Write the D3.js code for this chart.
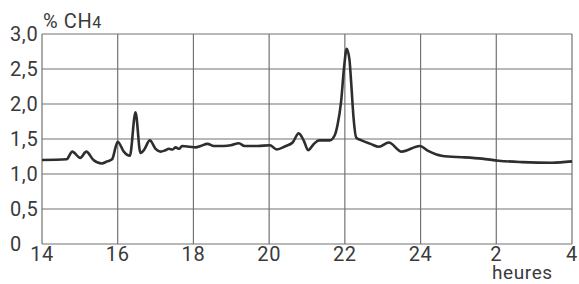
<!DOCTYPE html>
<html>
<head>
<meta charset="UTF-8">
<script src="https://d3js.org/d3.v7.min.js"></script>
<style>
  body { margin: 0; background: #fff; }
  svg { display: block; }
  .lbl { font-family: Roboto, "Liberation Sans", sans-serif; font-size: 20px; letter-spacing: 0.6px; fill: #3a3a3a; }
</style>
</head>
<body>
<div id="chart"></div>
<script>
// time in hours (continuous, 24 = midnight, 28 = 4h next day)
const hours = [14, 14.65, 14.8, 15.01, 15.17, 15.36, 15.58, 15.72, 15.85, 16.0, 16.16, 16.32, 16.47,
  16.6, 16.69, 16.85, 17.0, 17.13, 17.26, 17.35, 17.45, 17.53, 17.62, 17.7, 17.9, 18.06, 18.19, 18.37, 18.54,
  18.8, 18.99, 19.2, 19.35, 19.7, 20.02, 20.2, 20.44, 20.62, 20.78, 20.92, 21.03, 21.18, 21.32, 21.6,
  21.73, 21.81, 21.9, 21.98, 22.05, 22.12, 22.17, 22.23, 22.3, 22.44, 22.68, 22.9, 23.16, 23.5, 23.98,
  24.2, 24.42, 24.73, 25.09, 25.62, 26.06, 26.68, 27.47, 28];
const ch4 = [1.2, 1.21, 1.32, 1.23, 1.32, 1.2, 1.15, 1.18, 1.21, 1.46, 1.32, 1.26, 1.88,
  1.3, 1.34, 1.48, 1.36, 1.32, 1.34, 1.36, 1.35, 1.38, 1.36, 1.4, 1.39, 1.38, 1.4, 1.43, 1.4,
  1.4, 1.41, 1.44, 1.4, 1.4, 1.41, 1.35, 1.4, 1.45, 1.58, 1.47, 1.34, 1.43, 1.48, 1.48,
  1.55, 1.71, 2.03, 2.53, 2.79, 2.64, 2.28, 1.8, 1.52, 1.48, 1.43, 1.39, 1.45, 1.32, 1.4,
  1.33, 1.28, 1.25, 1.24, 1.22, 1.19, 1.17, 1.16, 1.18];
const xTicks = [14, 16, 18, 20, 22, 24, 26, 28];
const xTickLabels = ["14", "16", "18", "20", "22", "24", "2", "4"];
const yTicks = [0, 0.5, 1, 1.5, 2, 2.5, 3];
const yTickLabels = ["0", "0,5", "1,0", "1,5", "2,0", "2,5", "3,0"];

const W = 579, H = 284;
const svg = d3.select('#chart').append('svg').attr('width', W).attr('height', H);

const x = d3.scaleLinear().domain([14, 28]).range([42, 572]);
const y = d3.scaleLinear().domain([0, 3]).range([244, 34]);

// grid
svg.append('g').selectAll('line.v').data(xTicks).enter().append('line')
  .attr('x1', d => x(d)).attr('x2', d => x(d))
  .attr('y1', y(3)).attr('y2', y(0))
  .attr('stroke', '#727272').attr('stroke-width', 1.2);
svg.append('g').selectAll('line.h').data(yTicks).enter().append('line')
  .attr('x1', x(14)).attr('x2', x(28))
  .attr('y1', d => y(d)).attr('y2', d => y(d))
  .attr('stroke', '#727272').attr('stroke-width', 1.2);

// tick labels
svg.append('g').selectAll('text').data(yTicks).enter().append('text')
  .attr('class', 'lbl')
  .attr('x', 10).attr('y', d => y(d)).attr('dy', '0.36em')
  .text((d, i) => yTickLabels[i]);
svg.append('g').selectAll('text').data(xTicks).enter().append('text')
  .attr('class', 'lbl')
  .attr('x', d => x(d)).attr('y', 261)
  .attr('text-anchor', 'middle')
  .text((d, i) => xTickLabels[i]);

// axis titles
const t = svg.append('text').attr('class', 'lbl').attr('x', 43).attr('y', 28);
t.append('tspan').text('% CH');
t.append('tspan').attr('font-size', '16px').text('4');
svg.append('text').attr('class', 'lbl').attr('x', 492).attr('y', 279)
  .attr('font-size', '19px').style('font-size', '19px').text('heures');

// curve
const data = hours.map((h, i) => ({ h, v: ch4[i] }));
const line = d3.line().x(d => x(d.h)).y(d => y(d.v)).curve(d3.curveMonotoneX);
svg.append('path').datum(data)
  .attr('fill', 'none').attr('stroke', '#2e2e2e')
  .attr('stroke-width', 2.6).attr('stroke-linejoin', 'round')
  .attr('d', line);
</script>
</body>
</html>
